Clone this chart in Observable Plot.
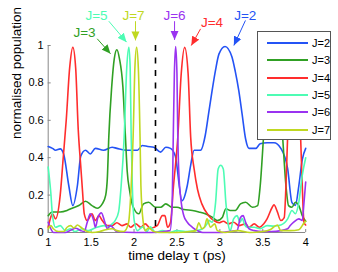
<!DOCTYPE html>
<html><head><meta charset="utf-8">
<script src="https://cdn.jsdelivr.net/npm/d3@7"></script>
<script src="https://cdn.jsdelivr.net/npm/@observablehq/plot@0.6"></script>
<style>
body{margin:0;background:#fff;}
#wrap{position:relative;width:338px;height:272px;font-family:"Liberation Sans",Arial,Helvetica,sans-serif;}
#legend{position:absolute;left:257px;top:31px;width:74px;height:109px;box-sizing:border-box;border:1px solid #555;background:#fff;}
.row{position:absolute;left:0;height:0;width:100%;}
.row .sw{position:absolute;left:9px;width:41px;top:-1px;height:2px;}
.row .lb{position:absolute;left:54px;top:-7px;font-size:11px;line-height:14px;color:#000;}
</style>
</head><body><div id="wrap"></div>
<script>
const series = ["J=2","J=3","J=4","J=5","J=6","J=7"];
const colors = ["#2453f5","#30a024","#ff2d2d","#4dfcb4","#9a33f0","#c0d821"];

const j2x = [1.0,1.05,1.085,1.14,1.18,1.24,1.287,1.34,1.38,1.435,1.49,1.55,1.645,1.745,1.80,1.92,2.04,2.096,2.16,2.23,2.31,2.37,2.425,2.48,2.56,2.62,2.66,2.70,2.775,2.83,2.87,2.91,2.95,2.99,3.06,3.14,3.18,3.22,3.26,3.30,3.34,3.42,3.47,3.55,3.63,3.71,3.79,3.84,3.88,3.92,3.96,4.0];
const j2y = [0.46,0.45,0.44,0.447,0.42,0.25,0.144,0.25,0.41,0.44,0.42,0.45,0.44,0.456,0.45,0.44,0.44,0.465,0.46,0.456,0.43,0.456,0.45,0.41,0.17,0.25,0.36,0.44,0.44,0.52,0.64,0.76,0.87,0.955,0.995,0.94,0.86,0.76,0.63,0.5,0.45,0.45,0.475,0.48,0.48,0.45,0.34,0.16,0.145,0.25,0.39,0.45];

const j3x = [1.0,1.047,1.14,1.22,1.28,1.357,1.435,1.51,1.57,1.63,1.67,1.69,1.706,1.74,1.77,1.80,1.83,1.87,1.90,1.92,1.95,1.98,2.0,2.056,2.11,2.17,2.25,2.31,2.37,2.445,2.50,2.58,2.68,2.755,2.83,2.91,2.97,3.03,3.07,3.12,3.18,3.24,3.30,3.38,3.44,3.47,3.51,3.56,3.62,3.68,3.73,3.77,3.80,3.84,3.88,3.92,3.96,4.0];
const j3y = [0.09,0.11,0.11,0.118,0.13,0.144,0.167,0.144,0.13,0.153,0.2,0.3,0.51,0.78,0.93,0.977,0.93,0.78,0.51,0.33,0.22,0.15,0.127,0.1,0.153,0.162,0.135,0.135,0.153,0.135,0.135,0.123,0.118,0.11,0.1,0.082,0.064,0.082,0.127,0.118,0.118,0.153,0.162,0.135,0.144,0.25,0.52,0.85,0.98,0.85,0.52,0.25,0.144,0.135,0.162,0.144,0.09,0.06];

const j4x = [1.0,1.03,1.05,1.085,1.14,1.175,1.21,1.25,1.287,1.32,1.35,1.38,1.40,1.42,1.455,1.51,1.55,1.59,1.63,1.69,1.745,1.80,1.86,1.92,1.96,2.02,2.08,2.13,2.19,2.27,2.33,2.36,2.39,2.425,2.46,2.51,2.55,2.59,2.63,2.66,2.70,2.74,2.79,2.87,2.93,2.99,3.04,3.10,3.16,3.22,3.30,3.34,3.40,3.46,3.51,3.55,3.61,3.63,3.67,3.71,3.75,3.77,3.79,3.83,3.87,3.91,3.94,3.96,3.98,4.0];
const j4y = [0.028,0.082,0.1,0.073,0.2,0.4,0.6,0.88,0.99,0.88,0.55,0.35,0.22,0.1,0.064,0.1,0.064,0.09,0.064,0.037,0.037,0.052,0.037,0.046,0.028,0.046,0.028,0.046,0.023,0.037,0.09,0.09,0.028,0.055,0.25,0.51,0.85,0.99,0.85,0.51,0.34,0.23,0.153,0.09,0.064,0.052,0.06,0.046,0.055,0.037,0.046,0.028,0.046,0.028,0.046,0.073,0.135,0.148,0.11,0.064,0.08,0.25,0.52,0.85,0.98,0.85,0.52,0.25,0.055,0.04];

const j5x = [1.0,1.007,1.03,1.05,1.085,1.14,1.2,1.26,1.31,1.40,1.47,1.55,1.65,1.71,1.745,1.78,1.82,1.85,1.885,1.915,1.94,1.955,1.967,1.98,2.005,2.04,2.10,2.15,2.19,2.25,2.33,2.41,2.5,2.6,2.72,2.8,2.85,2.87,2.91,2.95,2.98,3.01,3.04,3.07,3.10,3.12,3.16,3.20,3.235,3.26,3.29,3.32,3.40,3.47,3.55,3.63,3.71,3.79,3.84,3.88,3.92,3.96,4.0];
const j5y = [0.35,0.32,0.215,0.09,0.028,0.037,0.01,0.02,0.005,0.02,0.01,0.025,0.037,0.03,0.046,0.064,0.11,0.25,0.51,0.88,0.99,0.88,0.51,0.25,0.055,0.01,0.03,0.005,0.03,0.0,0.01,0.0,0.01,0.005,0.01,0.02,0.046,0.065,0.055,0.16,0.34,0.36,0.34,0.16,0.037,0.01,0.073,0.09,0.055,0.075,0.04,0.028,0.028,0.02,0.037,0.034,0.04,0.073,0.118,0.1,0.162,0.305,0.40];

const j6x = [1.0,1.03,1.06,1.2,1.26,1.32,1.38,1.42,1.455,1.49,1.53,1.55,1.58,1.62,1.66,1.69,1.72,1.75,1.8,2.0,2.2,2.42,2.445,2.457,2.47,2.485,2.50,2.51,2.52,2.55,2.58,2.62,2.68,2.74,2.8,3.0,3.1,3.2,3.24,3.27,3.30,3.34,3.40,3.5,3.6,3.71,3.79,3.82,3.86,3.92,3.96,3.98,4.0];
const j6y = [0.055,0.02,0.0,0.0,0.012,0.023,0.01,0.005,0.055,0.1,0.064,0.028,0.082,0.105,0.055,0.02,0.037,0.028,0.005,0.0,0.0,0.01,0.16,0.51,0.85,0.995,0.85,0.51,0.34,0.16,0.09,0.055,0.028,0.01,0.0,0.0,0.005,0.01,0.08,0.09,0.055,0.02,0.01,0.005,0.005,0.01,0.02,0.037,0.055,0.073,0.064,0.16,0.27];

const j7x = [1.0,1.03,1.06,1.12,1.18,1.22,1.26,1.30,1.34,1.38,1.43,1.51,1.6,1.67,1.745,1.8,1.88,1.92,1.94,1.967,1.99,2.01,2.03,2.05,2.07,2.08,2.107,2.13,2.17,2.23,2.31,2.5,2.65,2.72,2.755,2.79,2.82,2.85,2.89,2.94,2.97,3.06,3.21,3.35,3.5,3.59,3.67,3.71,3.82,3.92,3.98,4.0];
const j7y = [0.02,0.037,0.02,0.005,0.005,0.028,0.037,0.025,0.04,0.028,0.01,0.0,0.005,0.015,0.02,0.01,0.005,0.028,0.064,0.25,0.52,0.88,0.99,0.88,0.51,0.25,0.055,0.01,0.025,0.005,0.0,0.0,0.005,0.01,0.052,0.02,0.028,0.073,0.028,0.046,0.01,0.0,0.01,0.0,0.005,0.016,0.04,0.01,0.01,0.015,0.05,0.06];

const xTicks = [1,1.5,2,2.5,3,3.5,4];
const yTicks = [0,0.2,0.4,0.6,0.8,1];
const dashX = [2.25];

// annotations (label text, its colour index, anchor and arrow, in data units)
const annoLabels = ["J=3","J=5","J=7","J=6","J=4","J=2"];
const annoColor  = [1,3,5,4,2,0];
const annoTextX  = [1.423,1.563,1.994,2.472,2.908,3.296];
const annoTextY  = [1.071,1.157,1.157,1.157,1.121,1.157];
const arrowX1    = [1.571,1.706,2.017,2.472,2.775,3.298];
const arrowY1    = [1.036,1.13,1.13,1.13,1.089,1.134];
const arrowX2    = [1.726,1.913,2.017,2.472,2.667,3.163];
const arrowY2    = [0.956,1.018,1.027,1.03,1.0,1.0];

const xs = [j2x,j3x,j4x,j5x,j6x,j7x];
const ys = [j2y,j3y,j4y,j5y,j6y,j7y];
const data = [];
series.forEach((s,i)=>xs[i].forEach((x,k)=>data.push({series:s,x,y:ys[i][k]})));
const anno = annoLabels.map((t,i)=>({t,c:colors[annoColor[i]],tx:annoTextX[i],ty:annoTextY[i],x1:arrowX1[i],y1:arrowY1[i],x2:arrowX2[i],y2:arrowY2[i]}));

function headMarker(color, context){
  const ns="http://www.w3.org/2000/svg";
  const doc=(context&&context.document)||document;
  const m=doc.createElementNS(ns,"marker");
  m.setAttribute("viewBox","-9 -4.5 9 9");
  m.setAttribute("markerWidth","9");
  m.setAttribute("markerHeight","9");
  m.setAttribute("markerUnits","userSpaceOnUse");
  m.setAttribute("orient","auto");
  m.setAttribute("refX","0");
  m.setAttribute("refY","0");
  const p=doc.createElementNS(ns,"path");
  p.setAttribute("d","M0,0L-9,-4L-9,4Z");
  p.setAttribute("fill",color);
  p.setAttribute("stroke","none");
  m.appendChild(p);
  return m;
}

const font = "Liberation Sans, Arial, Helvetica, sans-serif";
function build(marker){
  return Plot.plot({
    width:338, height:272,
    marginLeft:47.7, marginRight:32.8, marginTop:45, marginBottom:40,
    style:{fontFamily:font, background:"#fff", color:"#000"},
    x:{domain:[xTicks[0],xTicks[xTicks.length-1]]},
    y:{domain:[yTicks[0],yTicks[yTicks.length-1]]},
    color:{domain:series, range:colors},
    marks:[
      Plot.ruleX([xTicks[0]],{stroke:"#888",strokeWidth:1}),
      Plot.ruleY([yTicks[0]],{stroke:"#888",strokeWidth:1}),
      Plot.axisY(yTicks,{anchor:"left",tickSize:3,dx:3,stroke:"#888",fill:"none",label:null}),
      Plot.axisX(xTicks,{anchor:"bottom",tickSize:3,dy:-3,stroke:"#888",fill:"none",label:null}),
      Plot.axisY(yTicks,{anchor:"left",tickSize:0,tickPadding:4.5,fontSize:11,fill:"#000",tickFormat:d=>String(d),label:null}),
      Plot.axisX(xTicks,{anchor:"bottom",tickSize:0,tickPadding:6,fontSize:11,fill:"#000",tickFormat:d=>String(d),label:null}),
      Plot.line(data,{x:"x",y:"y",z:"series",stroke:"series",strokeWidth:1.6,curve:"monotone-x"}),
      Plot.ruleX(dashX,{stroke:"#000",strokeWidth:1.6,strokeDasharray:"6,6.5"}),
      Plot.link(anno,{x1:"x1",y1:"y1",x2:"x2",y2:"y2",stroke:d=>d.c,strokeWidth:1,markerEnd:marker}),
      Plot.text(anno,{x:"tx",y:"ty",text:"t",fill:d=>d.c,fontSize:13.5}),
      Plot.text(["time delay τ (ps)"],{frameAnchor:"bottom",dy:27,fontSize:13.5,fill:"#000"}),
      Plot.text(["normalised population"],{frameAnchor:"left",rotate:-90,dx:-31.5,fontSize:13.5,fill:"#000"})
    ]
  });
}
let chart;
try { chart = build(headMarker); } catch(e){ chart = build("arrow"); }
const wrap=document.getElementById("wrap");
wrap.appendChild(chart);

const lg=document.createElement("div");
lg.id="legend";
series.forEach((s,i)=>{
  const r=document.createElement("div");
  r.className="row";
  r.style.top=(10.8+i*17.35)+"px";
  const sw=document.createElement("div");
  sw.className="sw"; sw.style.background=colors[i];
  const lb=document.createElement("div");
  lb.className="lb"; lb.textContent=s;
  r.appendChild(sw); r.appendChild(lb); lg.appendChild(r);
});
wrap.appendChild(lg);
</script>
</body></html>
